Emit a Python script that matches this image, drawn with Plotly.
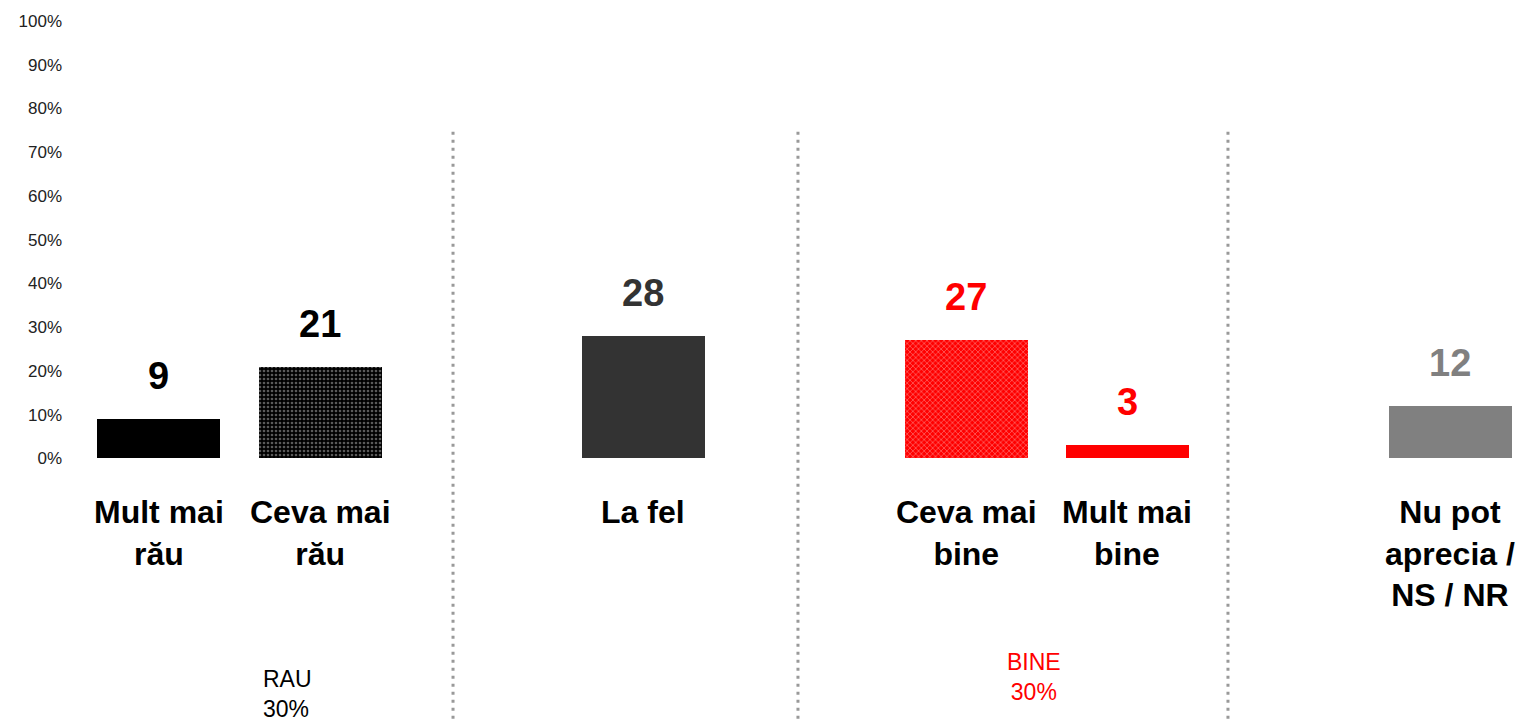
import plotly.graph_objects as go

# ---- data ----
categories = ["Mult mai<br>rău", "Ceva mai<br>rău", "La fel", "Ceva mai<br>bine", "Mult mai<br>bine", "Nu pot<br>aprecia /<br>NS / NR"]
values = [9, 21, 28, 27, 3, 12]
value_labels = ["9", "21", "28", "27", "3", "12"]
slots = [0, 1, 3, 5, 6, 8]
ytick_vals = [0, 10, 20, 30, 40, 50, 60, 70, 80, 90, 100]
ytick_text = ["0%", "10%", "20%", "30%", "40%", "50%", "60%", "70%", "80%", "90%", "100%"]
group_texts = ["RAU<br>30%", "BINE<br>30%"]

# ---- styles ----
bar_colors = ["#000000", "#000000", "#333333", "#ff0000", "#ff0000", "#808080"]
pattern_shapes = ["", ".", "", "x", "", ""]
pattern_fg = ["#000000", "#b4b4b4", "#333333", "#ffc4c4", "#ff0000", "#808080"]
label_colors = ["#000000", "#000000", "#333333", "#ff0000", "#ff0000", "#808080"]
divider_x = [1.822, 3.959, 6.623]

# page body has an 8px margin: figure is sized / offset to compensate
PAGE_OFF = 8

fig = go.Figure()
for i in range(len(values)):
    marker = dict(color=bar_colors[i], line=dict(width=0))
    if pattern_shapes[i]:
        marker["pattern"] = dict(shape=pattern_shapes[i], fgcolor=pattern_fg[i],
                                 bgcolor=bar_colors[i], size=4, solidity=0.35,
                                 fillmode="overlay")
    fig.add_trace(go.Bar(x=[slots[i]], y=[values[i]], width=0.762, marker=marker,
                         hoverinfo="skip", showlegend=False))
    fig.add_annotation(x=slots[i], y=values[i], xref="x", yref="y",
                       text="<b>%s</b>" % value_labels[i], showarrow=False,
                       yanchor="middle", yshift=43,
                       font=dict(family="Liberation Sans, Arial", size=38, color=label_colors[i]))
    fig.add_annotation(x=slots[i], y=-7.7, xref="x", yref="y",
                       text="<b>%s</b>" % categories[i], showarrow=False,
                       yanchor="top", xanchor="center", align="center",
                       font=dict(family="Liberation Sans, Arial", size=32, color="#000000"))

for dx in divider_x:
    fig.add_shape(type="line", xref="x", yref="y", x0=dx, x1=dx, y0=74.7, y1=-60.5,
                  line=dict(color="#999999", width=3, dash="3px,5px"))

fig.add_annotation(x=0.632, y=-47.0, xref="x", yref="y", text=group_texts[0],
                   showarrow=False, xanchor="left", yanchor="top", align="left",
                   font=dict(family="Liberation Sans, Arial", size=23, color="#000000"))
fig.add_annotation(x=5.42, y=-43.2, xref="x", yref="y", text=group_texts[1],
                   showarrow=False, xanchor="center", yanchor="top", align="center",
                   font=dict(family="Liberation Sans, Arial", size=23, color="#ff0000"))

fig.update_layout(
    width=1524 - PAGE_OFF, height=723 - PAGE_OFF,
    margin=dict(l=70 - PAGE_OFF, r=0, t=21 - PAGE_OFF, b=0),
    paper_bgcolor="white", plot_bgcolor="white",
    bargap=0,
    xaxis=dict(range=[-0.551, 8.457], showgrid=False, zeroline=False, showticklabels=False,
               showline=False, fixedrange=True),
    yaxis=dict(range=[-60.5, 100], tickmode="array", tickvals=ytick_vals, ticktext=ytick_text,
               showgrid=False, zeroline=False, showline=False, ticks="", ticklabelstandoff=7,
               tickfont=dict(family="Liberation Sans, Arial", size=17, color="#222222"),
               fixedrange=True),
)

fig.write_html("out.html")
